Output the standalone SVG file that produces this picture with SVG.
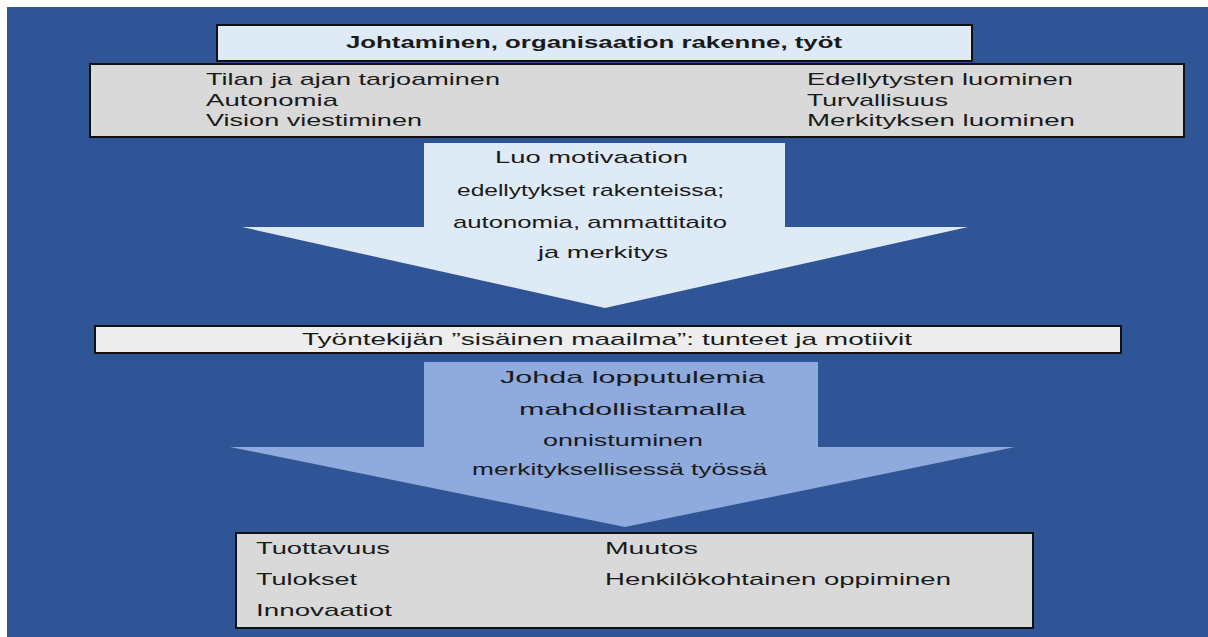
<svg xmlns="http://www.w3.org/2000/svg" width="1208" height="637" viewBox="0 0 1208 637">
<style>
.t{font-family:"Liberation Sans",Arial,sans-serif;font-size:17px;fill:#1a1a1a}
.b{font-weight:bold}
.box{stroke:#111;stroke-width:2}
</style>
<rect x="0" y="0" width="1208" height="637" fill="#ffffff"/>
<rect x="7" y="7" width="1201" height="630" fill="#2F5597"/>
<g id="connectors">
<polygon id="arrow1" points="424,143 785,143 785,227 968,227 605,308 242,227 424,227" fill="#DEEBF7"/>
<polygon id="arrow2" points="424,362 818,362 818,447 1015,447 625,527 230,447 424,447" fill="#8FAADC"/>
</g>
<g id="title">
<rect class="box" x="217" y="25" width="755" height="36" fill="#DEEBF7"/>
<text class="t b" x="346" y="48" textLength="496" lengthAdjust="spacingAndGlyphs">Johtaminen, organisaation rakenne, työt</text>
</g>
<g id="leadership">
<rect class="box" x="90" y="64" width="1094" height="73" fill="#D9D9D9"/>
<text class="t" x="206" y="85" textLength="294" lengthAdjust="spacingAndGlyphs">Tilan ja ajan tarjoaminen</text>
<text class="t" x="206" y="106" textLength="132" lengthAdjust="spacingAndGlyphs">Autonomia</text>
<text class="t" x="206" y="126" textLength="216" lengthAdjust="spacingAndGlyphs">Vision viestiminen</text>
<text class="t" x="807" y="85" textLength="266" lengthAdjust="spacingAndGlyphs">Edellytysten luominen</text>
<text class="t" x="807" y="106" textLength="141" lengthAdjust="spacingAndGlyphs">Turvallisuus</text>
<text class="t" x="807" y="126" textLength="268" lengthAdjust="spacingAndGlyphs">Merkityksen luominen</text>
</g>
<g id="arrow1-text">
<text class="t" x="495" y="163" textLength="193" lengthAdjust="spacingAndGlyphs">Luo motivaation</text>
<text class="t" x="457" y="196" textLength="267" lengthAdjust="spacingAndGlyphs">edellytykset rakenteissa;</text>
<text class="t" x="453" y="228" textLength="274" lengthAdjust="spacingAndGlyphs">autonomia, ammattitaito</text>
<text class="t" x="538" y="258" textLength="130" lengthAdjust="spacingAndGlyphs">ja merkitys</text>
</g>
<g id="inner-world">
<rect class="box" x="95" y="326" width="1026" height="27" fill="#EDEDED"/>
<text class="t" x="302" y="345" textLength="610" lengthAdjust="spacingAndGlyphs">Työntekijän ”sisäinen maailma”: tunteet ja motiivit</text>
</g>
<g id="arrow2-text">
<text class="t" x="500" y="383" textLength="265" lengthAdjust="spacingAndGlyphs">Johda lopputulemia</text>
<text class="t" x="519" y="415" textLength="227" lengthAdjust="spacingAndGlyphs">mahdollistamalla</text>
<text class="t" x="543" y="446" textLength="160" lengthAdjust="spacingAndGlyphs">onnistuminen</text>
<text class="t" x="472" y="475" textLength="295" lengthAdjust="spacingAndGlyphs">merkityksellisessä työssä</text>
</g>
<g id="outcomes">
<rect class="box" x="236" y="533" width="797" height="95" fill="#D9D9D9"/>
<text class="t" x="256" y="554" textLength="134" lengthAdjust="spacingAndGlyphs">Tuottavuus</text>
<text class="t" x="256" y="585" textLength="101" lengthAdjust="spacingAndGlyphs">Tulokset</text>
<text class="t" x="256" y="616" textLength="136" lengthAdjust="spacingAndGlyphs">Innovaatiot</text>
<text class="t" x="605" y="554" textLength="93" lengthAdjust="spacingAndGlyphs">Muutos</text>
<text class="t" x="605" y="585" textLength="346" lengthAdjust="spacingAndGlyphs">Henkilökohtainen oppiminen</text>
</g>
</svg>
